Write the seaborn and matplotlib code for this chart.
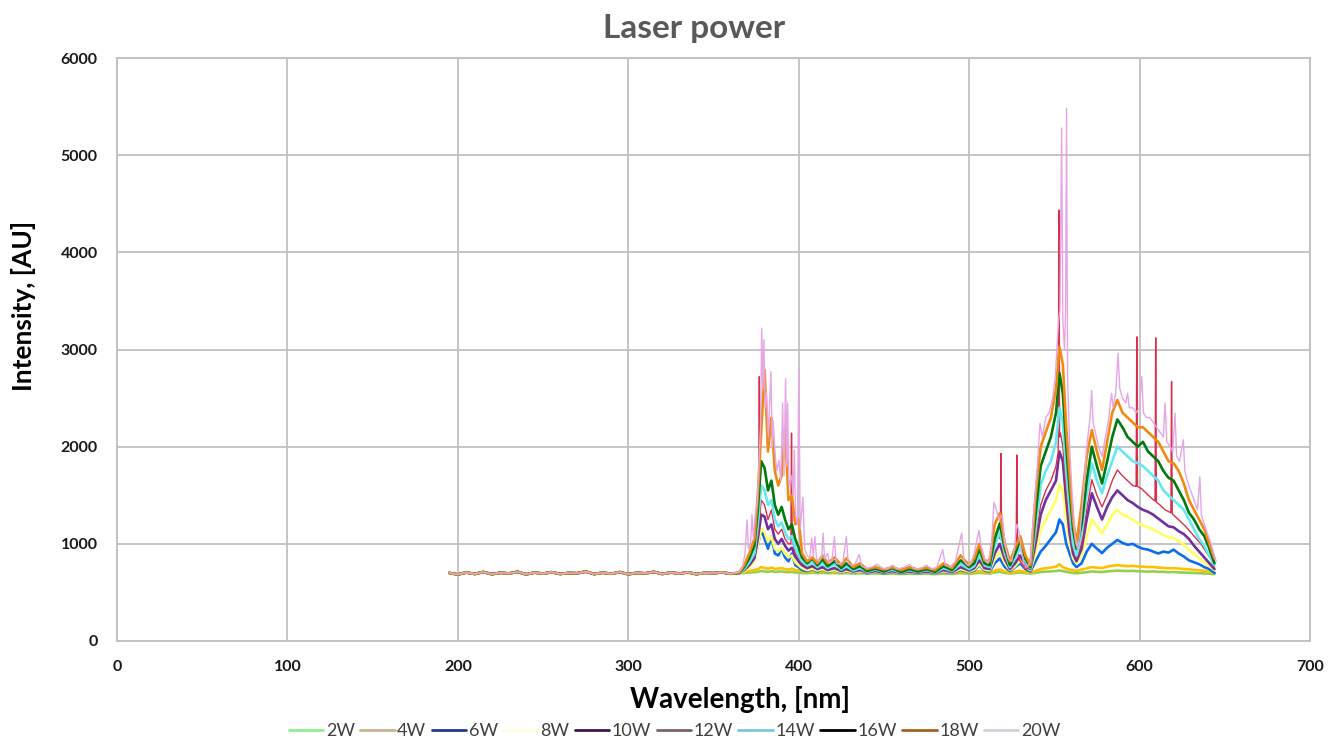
import numpy as np
import pandas as pd
import matplotlib
matplotlib.use("Agg")
import matplotlib.pyplot as plt
from matplotlib.lines import Line2D
import seaborn as sns

sns.set_theme(style="whitegrid")
plt.rcParams['font.family'] = ['Lato', 'DejaVu Sans']

# ---------------- data ----------------
labels = ["2W", "4W", "6W", "8W", "10W", "12W", "14W", "16W", "18W", "20W"]

# common flat baseline (all series overlap here)
base_wl = [195, 200, 205, 210, 215, 220, 225, 230, 235, 240, 245, 250, 255, 260, 265, 270, 275,
           280, 285, 290, 295, 300, 305, 310, 315, 320, 325, 330, 335, 340, 345, 350, 355, 360]
base_int = [700, 685, 705, 690, 710, 688, 702, 695, 712, 686, 704, 693, 708, 690, 700, 697, 714,
            689, 703, 692, 709, 687, 701, 696, 711, 690, 705, 694, 707, 688, 702, 698, 706, 692]

# coarse wavelength grid for the smoother series
wl_c = [365, 368, 371, 374, 376, 378, 380, 382, 384, 386,
        388, 390, 392, 394, 396, 398, 400, 402, 405, 408,
        411, 414, 417, 421, 425, 428, 432, 436, 440, 445,
        450, 455, 460, 465, 470, 475, 480, 485, 490, 495,
        500, 503, 506, 509, 512, 515, 518, 521, 524, 527,
        530, 533, 536, 539, 542, 545, 548, 551, 553, 555,
        557, 559, 561, 563, 566, 569, 572, 575, 578, 581,
        584, 587, 590, 593, 596, 599, 602, 605, 608, 611,
        614, 617, 620, 623, 626, 629, 632, 635, 638, 641, 644]

int_2W = [695, 700, 705, 708, 712, 720, 716, 712, 718, 710,
          714, 716, 710, 708, 712, 705, 703, 700, 698, 702,
          699, 701, 697, 700, 696, 699, 694, 698, 692, 696,
          690, 694, 689, 693, 690, 694, 688, 695, 690, 698,
          692, 696, 702, 697, 694, 706, 712, 700, 694, 700,
          705, 698, 694, 702, 710, 714, 716, 720, 726, 720,
          712, 706, 700, 697, 702, 708, 716, 712, 710, 716,
          720, 724, 722, 720, 722, 718, 716, 714, 716, 712,
          712, 708, 710, 706, 704, 702, 700, 698, 695, 692, 688]

int_4W = [700, 710, 720, 730, 740, 760, 750, 745, 755, 740,
          745, 750, 740, 735, 745, 730, 725, 720, 715, 718,
          712, 716, 710, 714, 708, 712, 706, 710, 702, 706,
          700, 705, 698, 703, 699, 704, 697, 706, 700, 712,
          702, 708, 720, 710, 706, 725, 735, 715, 705, 715,
          722, 710, 705, 720, 740, 750, 755, 765, 790, 760,
          745, 735, 728, 722, 735, 748, 760, 755, 750, 765,
          775, 780, 775, 770, 772, 768, 765, 760, 762, 755,
          752, 748, 750, 745, 740, 738, 732, 728, 722, 716, 705]

int_6W = [700, 730, 790, 860, 980, 1150, 1050, 950, 1080, 900,
          880, 950, 860, 820, 900, 780, 760, 730, 720, 740,
          715, 735, 712, 728, 708, 722, 705, 715, 700, 710,
          698, 708, 697, 705, 698, 706, 696, 712, 700, 730,
          708, 725, 780, 725, 715, 800, 850, 760, 720, 760,
          800, 740, 715, 820, 920, 980, 1050, 1120, 1250, 1200,
          1000, 900, 800, 760, 800, 920, 1000, 950, 905, 960,
          1000, 1040, 1010, 990, 1000, 970, 950, 940, 920, 900,
          920, 910, 940, 900, 870, 830, 810, 790, 760, 740, 700]

int_8W = [700, 720, 760, 820, 980, 1150, 1120, 1020, 1080, 950,
          920, 960, 900, 860, 880, 810, 780, 750, 730, 745,
          725, 740, 718, 730, 712, 725, 708, 718, 702, 712,
          700, 712, 698, 708, 700, 710, 698, 718, 705, 740,
          715, 735, 790, 735, 725, 840, 920, 800, 730, 770,
          830, 760, 730, 900, 1150, 1250, 1350, 1450, 1620, 1550,
          1250, 1000, 850, 800, 880, 1080, 1250, 1180, 1110, 1200,
          1300, 1350, 1300, 1280, 1250, 1210, 1190, 1170, 1150, 1120,
          1090, 1070, 1060, 1030, 990, 940, 900, 850, 810, 770, 730]

int_10W = [700, 730, 780, 850, 1050, 1300, 1280, 1150, 1200, 1050,
           1000, 1050, 980, 930, 960, 870, 820, 780, 750, 770,
           740, 760, 730, 750, 720, 740, 715, 730, 705, 720,
           702, 720, 700, 715, 702, 716, 700, 730, 710, 760,
           725, 750, 830, 750, 740, 900, 1000, 840, 740, 800,
           880, 780, 740, 1000, 1300, 1450, 1550, 1650, 1950, 1850,
           1450, 1100, 900, 820, 950, 1250, 1520, 1380, 1250, 1380,
           1480, 1550, 1500, 1450, 1420, 1380, 1350, 1330, 1300, 1260,
           1220, 1180, 1170, 1130, 1100, 1050, 980, 920, 860, 800, 740]

int_14W = [700, 740, 810, 900, 1200, 1600, 1550, 1400, 1450, 1250,
           1180, 1220, 1120, 1050, 1080, 960, 880, 820, 780, 810,
           760, 800, 750, 790, 735, 770, 725, 750, 712, 735,
           708, 735, 705, 728, 708, 730, 705, 750, 720, 790,
           740, 770, 890, 780, 760, 980, 1120, 900, 760, 860,
           960, 820, 750, 1150, 1600, 1750, 1850, 2050, 2400, 2250,
           1750, 1350, 1000, 880, 1100, 1500, 1830, 1650, 1520, 1700,
           1850, 2000, 1950, 1900, 1850, 1830, 1800, 1750, 1700, 1650,
           1550, 1500, 1450, 1400, 1350, 1250, 1150, 1050, 980, 880, 780]

int_16W = [700, 760, 850, 980, 1350, 1850, 1780, 1550, 1650, 1400,
           1300, 1380, 1250, 1150, 1200, 1050, 960, 860, 800, 850,
           780, 840, 770, 820, 750, 800, 740, 770, 720, 745,
           715, 750, 710, 740, 715, 740, 712, 770, 730, 830,
           760, 800, 950, 800, 780, 1050, 1210, 950, 780, 900,
           1040, 850, 760, 1300, 1800, 1950, 2100, 2350, 2760, 2550,
           2000, 1550, 1150, 950, 1200, 1650, 2000, 1800, 1620, 1850,
           2100, 2280, 2200, 2100, 2050, 2000, 2050, 1950, 1900, 1850,
           1750, 1680, 1650, 1550, 1450, 1320, 1250, 1150, 1080, 950, 800]

int_18W = [705, 780, 900, 1050, 1500, 2150, 2790, 1950, 2300, 1750,
           1600, 1700, 2200, 1450, 1500, 1200, 1250, 900, 820, 860,
           800, 880, 800, 860, 780, 850, 760, 800, 740, 760,
           735, 760, 730, 760, 735, 755, 730, 800, 750, 880,
           780, 850, 1000, 830, 820, 1200, 1315, 1000, 820, 960,
           1080, 880, 780, 1500, 2000, 2150, 2300, 2600, 3030, 2850,
           2200, 1700, 1250, 1000, 1400, 1900, 2170, 1950, 1760, 2050,
           2350, 2480, 2350, 2300, 2250, 2200, 2200, 2150, 2100, 2050,
           1950, 1850, 1830, 1750, 1620, 1450, 1350, 1250, 1150, 1000, 850]

# 12W has its own grid because of narrow spikes
wl_12W = [365, 368, 371, 374, 376, 376.5, 376.9, 377.3, 378, 380,
          382, 384, 386, 388, 390, 392, 394, 395.4, 395.8, 396.2,
          398, 400, 402, 405, 408, 411, 414, 417, 421, 425,
          428, 432, 436, 440, 445, 450, 455, 460, 465, 470,
          475, 480, 485, 490, 495, 500, 503, 506, 509, 512,
          515, 517, 518.3, 518.7, 519.1, 521, 524, 527, 527.6, 528,
          528.4, 530, 533, 536, 539, 542, 545, 548, 551, 552.3,
          552.7, 553.1, 553.6, 555, 557, 559, 561, 563, 566, 569,
          572, 575, 578, 581, 584, 587, 590, 593, 596, 598,
          598.4, 598.8, 601, 604, 607, 609.1, 609.5, 609.9, 612, 615,
          618.4, 618.8, 619.2, 621, 624, 627, 630, 633, 636, 639, 642, 644]
int_12W = [700, 740, 800, 880, 1100, 1150, 2720, 1300, 1450, 1400,
           1250, 1350, 1150, 1100, 1150, 1050, 1000, 1000, 2140, 1050,
           900, 860, 800, 780, 800, 770, 800, 760, 790, 750,
           780, 740, 760, 720, 740, 715, 735, 710, 730, 715,
           730, 710, 750, 720, 780, 740, 780, 880, 760, 760,
           1000, 1080, 1050, 1930, 1000, 850, 760, 850, 880, 1914,
           900, 820, 740, 750, 1050, 1400, 1550, 1650, 1800, 1950,
           4435, 2100, 2140, 2000, 1550, 1200, 950, 850, 1000, 1350,
           1660, 1500, 1380, 1500, 1650, 1760, 1700, 1650, 1600, 1590,
           3130, 1590, 1570, 1520, 1470, 1440, 3120, 1430, 1400, 1350,
           1320, 2670, 1310, 1280, 1230, 1180, 1120, 1060, 1000, 920, 840, 760]

# 20W (highest, many narrow spikes) on its own grid
wl_20W = [365, 367, 368.5, 369.7, 370.5, 371.8, 372.6, 373.4, 374.7, 375.5,
          376.9, 377.6, 378.3, 379, 379.6, 380.3, 381.2, 382.2, 383.7, 384.5,
          385, 386.3, 387.2, 388.4, 389.5, 390.6, 391.4, 392.3, 393, 393.5,
          394.3, 395.8, 396.8, 397.4, 398.2, 399.3, 400.1, 400.9, 402.5, 403.5,
          405, 406.5, 407.6, 408.5, 409.5, 410.5, 412, 413.5, 414.3, 415.2,
          417, 418, 419.5, 421, 422, 424, 426, 428, 429, 431,
          433, 435.5, 437, 440, 443, 446, 449, 452, 455, 458,
          462, 465, 468, 472, 475, 478, 481, 484.5, 486, 489,
          492, 495.6, 497, 499, 501, 503, 505.8, 507, 509, 511,
          513, 514.6, 516, 517.5, 519.5, 521, 523, 525, 526.5, 528,
          529, 530.5, 532, 534, 536, 538, 540, 541.6, 543, 545,
          547, 549, 550.5, 551.5, 552.5, 553.3, 554.3, 555, 556, 556.6,
          557.2, 557.8, 559, 560.5, 562, 563.5, 565, 567, 569, 571,
          571.9, 572.8, 574, 576, 578, 580, 582, 583.6, 584.5, 586,
          587.4, 588.4, 590, 592, 593, 594, 596, 598, 600, 601.3,
          602.3, 604, 606, 608, 610, 612, 614, 615, 616, 618,
          619.5, 620.8, 621.8, 623.5, 625.7, 626.6, 628, 630, 632, 634,
          635.4, 636.3, 638, 640, 642, 643.5, 645]
int_20W = [710, 760, 900, 1245, 950, 1000, 1300, 1050, 1330, 1400,
           1900, 2200, 3220, 2600, 3100, 2400, 2550, 2100, 2770, 2000,
           2270, 1900, 1750, 1860, 1650, 2450, 1700, 2700, 1800, 2450,
           1600, 1700, 1500, 1965, 1300, 1200, 2810, 1150, 1480, 950,
           880, 850, 1060, 870, 1075, 840, 820, 860, 1110, 850,
           900, 800, 820, 1075, 800, 790, 820, 1075, 800, 780,
           790, 890, 770, 750, 760, 790, 750, 740, 780, 740,
           760, 790, 740, 750, 780, 740, 760, 940, 780, 760,
           820, 1110, 820, 780, 800, 900, 1140, 980, 850, 800,
           950, 1430, 1350, 1250, 1300, 1000, 850, 820, 950, 1200,
           1150, 950, 800, 760, 820, 1350, 1800, 2240, 2100, 2300,
           2350, 2500, 2700, 3000, 3300, 3400, 5280, 3300, 3000, 3400,
           5480, 2700, 2000, 1500, 1100, 950, 1100, 1500, 2000, 2300,
           2580, 2250, 2150, 2000, 1900, 2100, 2300, 2550, 2400, 2550,
           2960, 2600, 2500, 2450, 2550, 2400, 2400, 2350, 2400, 2720,
           2350, 2300, 2300, 2250, 2200, 2150, 2100, 2450, 2050, 2000,
           1950, 2345, 1900, 1850, 2070, 1750, 1650, 1550, 1450, 1350,
           1690, 1300, 1200, 1100, 1000, 900, 820]

line_colors = ["#92d050", "#ffc000", "#0a6fe8", "#ffff66", "#7030a0",
               "#d8304c", "#66e8f0", "#007a10", "#f08a10", "#e6a6e6"]
legend_colors = ["#90ee90", "#c8b490", "#1f3c8c", "#fffce0", "#3c1450",
                 "#786464", "#78c8e6", "#000000", "#a0641e", "#d2d2dc"]

series_wl = [wl_c, wl_c, wl_c, wl_c, wl_c, wl_12W, wl_c, wl_c, wl_c, wl_20W]
series_int = [int_2W, int_4W, int_6W, int_8W, int_10W, int_12W,
              int_14W, int_16W, int_18W, int_20W]

# ---------------- figure ----------------
fig = plt.figure(figsize=(13.28, 7.43), dpi=100)
ax = fig.add_axes([0.0881, 0.1373, 0.8983, 0.7846])

frames = []
for lab, wl, it in zip(labels, series_wl, series_int):
    frames.append(pd.DataFrame({"wl": list(base_wl) + list(wl),
                                "val": list(base_int) + list(it),
                                "series": lab}))
df = pd.concat(frames, ignore_index=True)

for i, lab in enumerate(labels):
    sub = df[df["series"] == lab]
    lw = 1.0 if lab in ("20W", "12W") else 1.9
    sns.lineplot(data=sub, x="wl", y="val", color=line_colors[i], lw=lw,
                 sort=False, estimator=None, ax=ax, legend=False)

ax.set_xlim(0, 700)
ax.set_ylim(0, 6000)
ax.set_xticks(np.arange(0, 701, 100))
ax.set_yticks(np.arange(0, 6001, 1000))
ax.grid(True, color="#c0c0c0", lw=1.3)
ax.set_facecolor("white")
for s in ax.spines.values():
    s.set_color("#c0c0c0")
    s.set_linewidth(1.3)
ax.tick_params(axis="both", length=0, labelsize=11.5, colors="#1a1a1a")
ax.tick_params(axis="x", pad=14)
ax.tick_params(axis="y", pad=14)
for t in ax.get_xticklabels() + ax.get_yticklabels():
    t.set_fontweight("bold")

ax.set_xlabel("Wavelength, [nm]", fontsize=20, fontweight="bold", color="black")
ax.set_ylabel("Intensity, [AU]", fontsize=19, fontweight="bold", color="black")
ax.xaxis.set_label_coords(0.522, -0.078)
ax.yaxis.set_label_coords(-0.068, 0.575)
fig.text(0.5225, 0.962, "Laser power", ha="center", va="center",
         fontsize=24, fontweight="bold", color="#595959")

handles = [Line2D([0], [0], color=c, lw=2) for c in legend_colors]
fig.legend(handles, labels, loc="center", bbox_to_anchor=(0.508, 0.016), ncol=10,
           frameon=False, fontsize=13, handlelength=1.9, handletextpad=0.15,
           columnspacing=0.3, labelcolor="#404040")

fig.savefig("out.png", dpi=100, facecolor="white")
